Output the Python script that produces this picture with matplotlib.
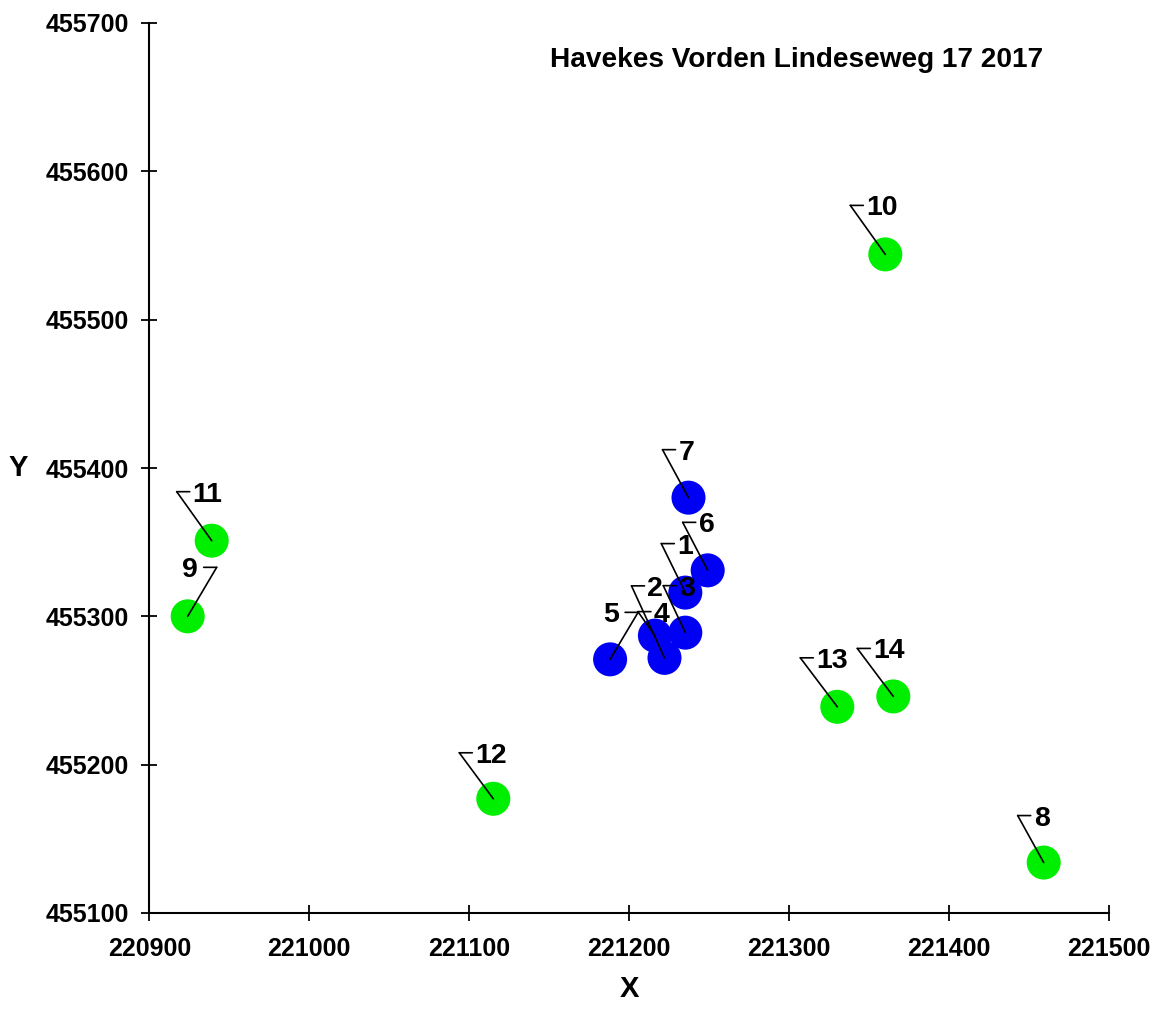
import matplotlib
matplotlib.use("Agg")
import matplotlib.pyplot as plt
from matplotlib.transforms import offset_copy

plt.rcParams['font.family'] = ['Liberation Sans', 'DejaVu Sans']
plt.rcParams['font.weight'] = 'bold'

# punten (RD-coordinaten)
punt_nummers = [1, 2, 3, 4, 5, 6, 7, 8, 9, 10, 11, 12, 13, 14]
x_coord = [221235, 221222, 221235, 221216, 221188, 221249, 221237,
           221459, 220924, 221360, 220939, 221115, 221330, 221365]
y_coord = [455316, 455272, 455289, 455287, 455271, 455331, 455380,
           455134, 455300, 455544, 455351, 455177, 455239, 455246]
groep = ['blauw'] * 7 + ['groen'] * 7

titel = 'Havekes Vorden Lindeseweg 17 2017'
x_ticks = [220900, 221000, 221100, 221200, 221300, 221400, 221500]
y_ticks = [455100, 455200, 455300, 455400, 455500, 455600, 455700]

# label plaatsing: hoekpunt van de verbindingslijn (pixels) en kant van de tekst
label_offset = {
    1: (-24, 49, 'r'), 2: (-33, 72, 'r'), 3: (-22, 47, 'r'), 4: (-17, 24, 'r'),
    5: (28, 47, 'l'), 6: (-25, 48, 'r'), 7: (-26, 48, 'r'), 8: (-26, 47, 'r'),
    9: (29, 49, 'l'), 10: (-35, 49, 'r'), 11: (-35, 49, 'r'), 12: (-34, 46, 'r'),
    13: (-37, 49, 'r'), 14: (-36, 48, 'r'),
}
kleuren = {'blauw': '#0000f5', 'groen': '#00ee00'}

fig = plt.figure(figsize=(11.59, 10.09), dpi=100)
ax = fig.add_axes([149.3 / 1159, 1 - 913 / 1009, 960 / 1159, 890 / 1009])

for g in ['blauw', 'groen']:
    xs = [x for x, gg in zip(x_coord, groep) if gg == g]
    ys = [y for y, gg in zip(y_coord, groep) if gg == g]
    ax.scatter(xs, ys, s=600, color=kleuren[g], edgecolors='none', zorder=2)

for n, x, y in zip(punt_nummers, x_coord, y_coord):
    dx, dy, kant = label_offset[n]
    # schuine lijn van punt naar hoekpunt
    ax.annotate('', xy=(x, y), xytext=(dx, dy), textcoords='offset pixels',
                arrowprops=dict(arrowstyle='-', lw=1.2, color='black',
                                shrinkA=0, shrinkB=0), zorder=3)
    hoek = offset_copy(ax.transData, fig=fig, x=dx, y=dy, units='dots')
    h = 13 if kant == 'r' else -13
    ax.annotate('', xy=(x, y), xycoords=hoek, xytext=(h, 0),
                textcoords='offset pixels',
                arrowprops=dict(arrowstyle='-', lw=1.2, color='black',
                                shrinkA=0, shrinkB=0), zorder=3)
    tx = 16 if kant == 'r' else -19
    ax.annotate(str(n), xy=(x, y), xycoords=hoek, xytext=(tx, 0),
                textcoords='offset pixels', fontsize=20.5, fontweight='bold',
                ha='left' if kant == 'r' else 'right', va='center_baseline',
                zorder=4)

ax.set_xlim(220900, 221500)
ax.set_ylim(455100, 455700)
ax.set_xticks(x_ticks)
ax.set_yticks(y_ticks)
ax.tick_params(direction='inout', length=11, width=1.3, labelsize=18)
ax.tick_params(axis='x', pad=12)
ax.tick_params(axis='y', pad=9)
for lbl in ax.get_xticklabels() + ax.get_yticklabels():
    lbl.set_fontweight('bold')

ax.spines['top'].set_visible(False)
ax.spines['right'].set_visible(False)
ax.spines['left'].set_linewidth(1.5)
ax.spines['bottom'].set_linewidth(1.5)

ax.set_xlabel('X', fontsize=21, fontweight='bold', va='center')
ax.xaxis.set_label_coords(0.5, -0.085)
ax.set_ylabel('Y', fontsize=21, fontweight='bold', rotation=0,
              va='center', ha='center')
ax.yaxis.set_label_coords(-0.137, 0.5)

ax.text(0.674, 0.958, titel, transform=ax.transAxes, fontsize=20.2,
        fontweight='bold', ha='center', va='center')

fig.savefig('out.png', dpi=100)
